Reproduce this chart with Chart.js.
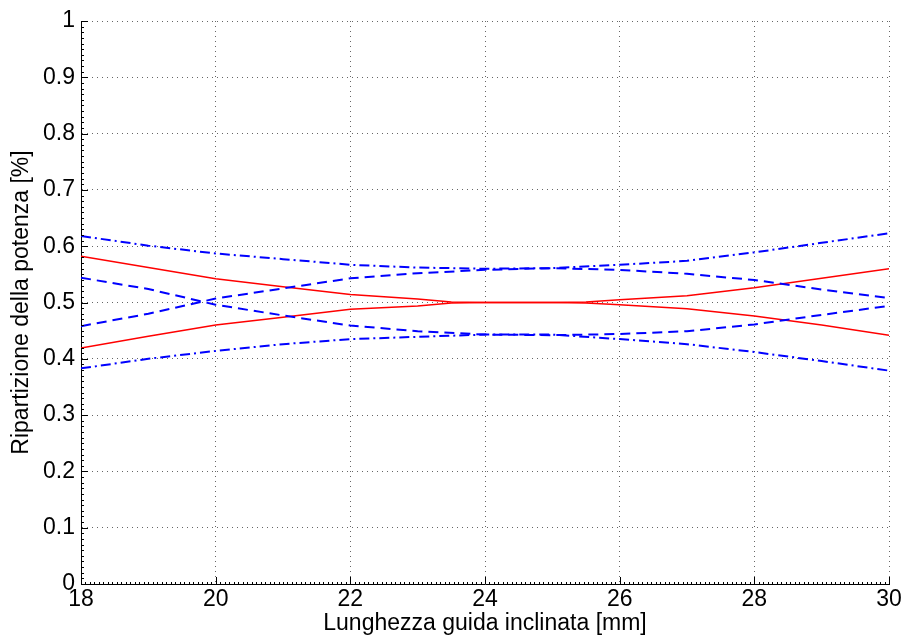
<!DOCTYPE html>
<html>
<head>
<meta charset="utf-8">
<script src="https://cdn.jsdelivr.net/npm/chart.js@4/dist/chart.umd.min.js"></script>
<style>
  body { margin: 0; background: #fff; }
  canvas { display: block; }
</style>
</head>
<body>
<canvas id="chart" width="904" height="638"></canvas>
<script>
// values

let lengthMm = [18, 19, 20, 21, 22, 23, 24, 25, 26, 27, 28, 29, 30];

let dashedA = [0.458, 0.480, 0.507, 0.525, 0.543, 0.552, 0.558, 0.561, 0.558, 0.551, 0.540, 0.523, 0.508];
let dashedB = [0.544, 0.524, 0.496, 0.477, 0.459, 0.449, 0.443, 0.442, 0.444, 0.449, 0.461, 0.478, 0.494];
let dashDotUpper = [0.618, 0.601, 0.587, 0.577, 0.567, 0.562, 0.560, 0.561, 0.567, 0.574, 0.589, 0.606, 0.623];
let dashDotLower = [0.383, 0.400, 0.414, 0.426, 0.435, 0.439, 0.443, 0.443, 0.435, 0.426, 0.412, 0.396, 0.379];

let redX = [18, 19, 20, 21, 22, 23, 23.5, 24, 25, 25.5, 26, 27, 28, 29, 30];
let redUpper = [0.582, 0.562, 0.542, 0.528, 0.514, 0.506, 0.501, 0.500, 0.500, 0.501, 0.505, 0.512, 0.526, 0.543, 0.560];
let redLower = [0.419, 0.440, 0.460, 0.474, 0.488, 0.494, 0.499, 0.500, 0.500, 0.499, 0.496, 0.489, 0.476, 0.460, 0.442];

let xTicks = [18, 20, 22, 24, 26, 28, 30];
let yTicks = [0, 0.1, 0.2, 0.3, 0.4, 0.5, 0.6, 0.7, 0.8, 0.9, 1];

let xTitle = "Lunghezza guida inclinata [mm]";
let yTitle = "Ripartizione della potenza [%]";

function pts(xs, ys) {
    return xs.map((x, i) => ({ x: x, y: ys[i] }));
}

function lineSet(xs, ys, color, width, dash) {
    return {
        data: pts(xs, ys),
        borderColor: color,
        borderWidth: width,
        borderDash: dash,
        pointRadius: 0,
        tension: 0,
        fill: false
    };
}

// MATLAB style ticks: pointing inside, with minor ticks
let inwardTicks = {
    id: "inwardTicks",
    afterDraw(chart) {
        let ctx = chart.ctx;
        let a = chart.chartArea;
        let x = chart.scales.x;
        let y = chart.scales.y;
        ctx.save();
        ctx.strokeStyle = "#000";
        ctx.lineWidth = 1;
        ctx.beginPath();
        for (let i = 0; i <= 100; i++) {
            let py = Math.round(y.getPixelForValue(i / 100)) + 0.5;
            let len = i % 10 === 0 ? 7 : 3;
            ctx.moveTo(a.left, py);
            ctx.lineTo(a.left + len, py);
        }
        for (let i = 0; i <= 180; i++) {
            let px = Math.round(x.getPixelForValue(18 + i / 15)) + 0.5;
            let len = i % 30 === 0 ? 7 : 2;
            ctx.moveTo(px, a.bottom);
            ctx.lineTo(px, a.bottom - len);
        }
        ctx.stroke();
        ctx.restore();
    }
};

let font = { family: "'Liberation Sans', Arial, sans-serif", size: 23 };

let ctx = document.getElementById("chart").getContext("2d");

let chart = new Chart(ctx, {
    type: "line",
    data: {
        datasets: [
            lineSet(lengthMm, dashDotUpper, "#0000ff", 2, [10, 4, 2, 4]),
            lineSet(lengthMm, dashDotLower, "#0000ff", 2, [10, 4, 2, 4]),
            lineSet(lengthMm, dashedA, "#0000ff", 2, [10, 6]),
            lineSet(lengthMm, dashedB, "#0000ff", 2, [10, 6]),
            lineSet(redX, redUpper, "#ff0000", 1.5, []),
            lineSet(redX, redLower, "#ff0000", 1.5, [])
        ]
    },
    options: {
        responsive: false,
        animation: false,
        devicePixelRatio: 1,
        layout: { padding: { left: 0, right: 15, top: 21, bottom: 0 } },
        plugins: {
            legend: { display: false },
            tooltip: { enabled: false }
        },
        scales: {
            x: {
                type: "linear",
                min: 18,
                max: 30,
                afterBuildTicks: s => { s.ticks = xTicks.map(v => ({ value: v })); },
                afterFit: s => { s.height = 54; },
                ticks: { color: "#000", font: font, padding: 2, maxRotation: 0 },
                grid: { color: "rgba(0,0,0,0.6)", lineWidth: 1, drawTicks: false },
                border: { color: "#000", width: 1, dash: [1, 4] },
                title: { display: true, text: xTitle, color: "#000", font: font, padding: { top: 0, bottom: 1 } }
            },
            y: {
                min: 0,
                max: 1,
                afterBuildTicks: s => { s.ticks = yTicks.map(v => ({ value: v })); },
                afterFit: s => { s.width = 81; },
                ticks: { color: "#000", font: font, padding: 6, callback: v => String(Math.round(v * 10) / 10) },
                grid: { color: "rgba(0,0,0,0.6)", lineWidth: 1, drawTicks: false },
                border: { color: "#000", width: 1, dash: [1, 4] },
                title: { display: true, text: yTitle, color: "#000", font: font, padding: { top: 8, bottom: 0 } }
            }
        }
    },
    plugins: [inwardTicks]
});
</script>
</body>
</html>
